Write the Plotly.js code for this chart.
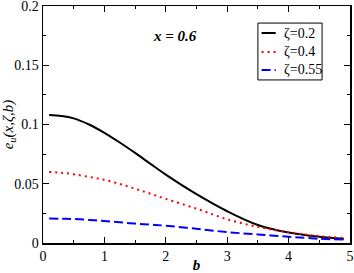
<!DOCTYPE html>
<html><head><meta charset="utf-8">
<script src="https://cdn.plot.ly/plotly-3.0.1.min.js"></script>
<style>html,body{margin:0;padding:0;background:#fff}#chart{width:354px;height:273px}</style>
</head><body><div id="chart"></div>
<script>
const bValues = [0.1, 0.3, 0.5, 0.75, 1.0, 1.25, 1.5, 1.75, 2.0, 2.5, 3.0, 3.5, 4.0, 4.5, 4.9];
const zeta02 = [0.108, 0.1072, 0.1052, 0.1000, 0.0930, 0.0848, 0.076, 0.0668, 0.0577, 0.0412, 0.0268, 0.0152, 0.0088, 0.0052, 0.0035];
const zeta04 = [0.060, 0.0593, 0.0580, 0.0558, 0.0533, 0.0498, 0.0458, 0.0416, 0.0372, 0.0290, 0.0200, 0.0136, 0.0091, 0.0058, 0.0042];
const zeta055 = [0.0206, 0.0205, 0.0202, 0.0195, 0.0186, 0.0175, 0.0164, 0.0155, 0.0146, 0.0120, 0.0092, 0.0072, 0.0053, 0.0036, 0.0030];
const seriesNames = ['ζ=0.2', 'ζ=0.4', 'ζ=0.55'];
const seriesColors = ['#000000', '#ff0000', '#0000ff'];
const seriesDash = ['solid', '2px,4px', '9px,4px'];
const xTicks = [0, 1, 2, 3, 4, 5];
const yTicks = [0, 0.05, 0.1, 0.15, 0.2];
const yTickText = ['0', '0.05', '0.1', '0.15', '0.2'];

const font = 'Liberation Serif';
const seriesY = [zeta02, zeta04, zeta055];
const traces = seriesY.map((ys, i) => ({
  x: bValues, y: ys, name: seriesNames[i], mode: 'lines',
  line: {color: seriesColors[i], width: 2, dash: seriesDash[i], shape: 'spline', smoothing: 1}
}));

// custom legend (paper coordinates)
const shapes = [{type: 'rect', xref: 'paper', yref: 'paper', x0: 0.700, x1: 0.909, y0: 0.688, y1: 0.928,
  line: {color: '#000', width: 1}, fillcolor: '#fff', layer: 'above'}];
const legendRows = [0.886, 0.806, 0.730];
const annotations = [{
  x: 0.43, y: 0.915, xref: 'paper', yref: 'paper', showarrow: false,
  text: '<b><i>x = 0.6</i></b>', font: {family: font, size: 15, color: '#000'}
}];
seriesNames.forEach((n, i) => {
  shapes.push({type: 'line', xref: 'paper', yref: 'paper', x0: 0.712, x1: 0.758, y0: legendRows[i], y1: legendRows[i],
    line: {color: seriesColors[i], width: 2, dash: seriesDash[i]}, layer: 'above'});
  annotations.push({x: 0.778, y: legendRows[i], xref: 'paper', yref: 'paper', xanchor: 'left', yanchor: 'middle',
    showarrow: false, text: n, font: {family: font, size: 14, color: '#000'}});
});

const axisCommon = {
  showgrid: false, zeroline: false, showline: true, linecolor: '#000', linewidth: 1.5,
  mirror: 'ticks', ticks: 'inside', ticklen: 6, tickwidth: 1, tickcolor: '#000',
  ticklabeloverflow: 'allow',
  tickfont: {family: font, size: 14, color: '#000'}
};
const layout = {
  width: 354, height: 273,
  margin: {l: 43, r: 4, t: 6, b: 30},
  paper_bgcolor: '#fff', plot_bgcolor: '#fff',
  font: {family: font, color: '#000'},
  showlegend: false,
  xaxis: Object.assign({}, axisCommon, {
    range: [0, 5], tickvals: xTicks, ticktext: xTicks.map(String),
    minor: {dtick: 0.5, ticks: 'inside', ticklen: 3, tickcolor: '#000'},
    title: {text: '<b><i>b</i></b>', font: {family: font, size: 15}, standoff: 2}
  }),
  yaxis: Object.assign({}, axisCommon, {
    range: [0, 0.2], tickvals: yTicks, ticktext: yTickText, ticklabelstandoff: 0,
    minor: {dtick: 0.025, ticks: 'inside', ticklen: 3, tickcolor: '#000'},
    title: {text: '<i>e<sub>u</sub>(x,ζ,b)</i>', font: {family: font, size: 15}, standoff: 7}
  }),
  shapes: shapes,
  annotations: annotations
};
Plotly.newPlot('chart', traces, layout, {displayModeBar: false, staticPlot: true});
</script></body></html>
